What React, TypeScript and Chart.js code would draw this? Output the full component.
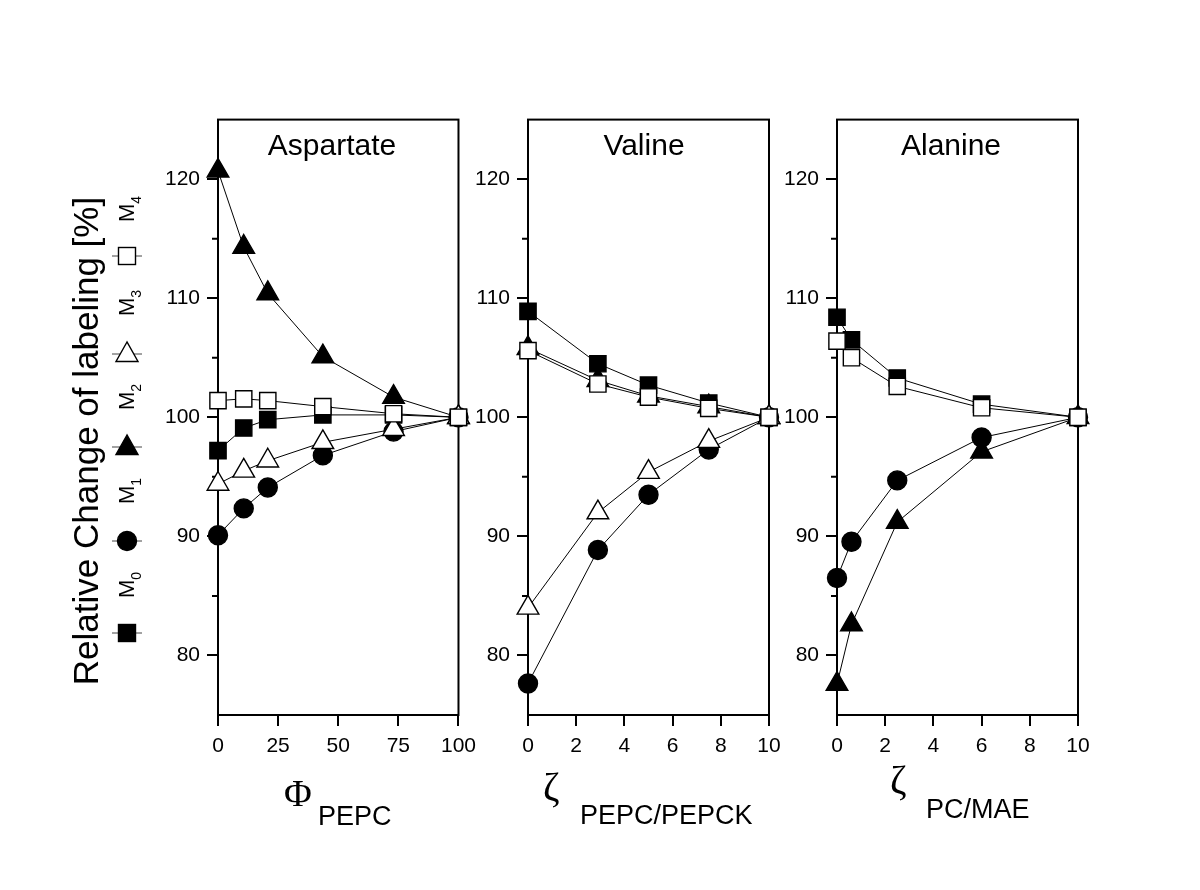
import React, { useEffect, useRef } from 'react';
import { Chart, registerables } from 'chart.js';
Chart.register(...registerables);

// ---------- data ----------
const aspX = [0, 10.7, 20.7, 43.6, 73, 100];
const aspM0 = [97.2, 99.1, 99.8, 100.2, 100.2, 100];
const aspM1 = [90.1, 92.35, 94.1, 96.8, 98.8, 100];
const aspM2 = [120.7, 114.3, 110.4, 105.1, 101.7, 100];
const aspM3 = [94.4, 95.5, 96.35, 97.9, 99.0, 100];
const aspM4 = [101.4, 101.55, 101.4, 100.9, 100.3, 100];

const valX = [0, 2.9, 5, 7.5, 10];
const valM0 = [108.9, 104.5, 102.7, 101.2, 100];
const valM1 = [77.65, 88.85, 93.5, 97.3, 100];
const valM2 = [105.8, 103.1, 101.8, 100.9, 100];
const valM3 = [84.0, 92.0, 95.4, 98.0, 100];
const valM4 = [105.6, 102.8, 101.7, 100.75, 100];

const alaX = [0, 0.6, 2.5, 6, 10];
const alaM0 = [108.4, 106.5, 103.3, 101.1, 100];
const alaM1 = [86.5, 89.55, 94.7, 98.3, 100];
const alaM2 = [77.6, 82.6, 91.2, 97.1, 100];
const alaM4 = [106.4, 105.0, 102.6, 100.8, 100];

const yMajorTicks = [80, 90, 100, 110, 120];
const yMinorTicks = [85, 95, 105, 115];
const aspXTicks = [0, 25, 50, 75, 100];
const zetaXTicks = [0, 2, 4, 6, 8, 10];

const panelTitles = ['Aspartate', 'Valine', 'Alanine'];
const legendLabels = ['0', '1', '2', '3', '4'];
const yTitle = 'Relative Change of labeling [%]';

// ---------- styles ----------
const SANS = '"Liberation Sans", Arial, Helvetica, sans-serif';
const SERIF = '"Liberation Serif", "Times New Roman", serif';

type SeriesStyle = { pointStyle: string; fill: string; radius: number; order: number };
const seriesStyles: SeriesStyle[] = [
  { pointStyle: 'rect', fill: '#000', radius: 11.5, order: 2 },
  { pointStyle: 'circle', fill: '#000', radius: 9.5, order: 4 },
  { pointStyle: 'triangle', fill: '#000', radius: 12.5, order: 3 },
  { pointStyle: 'triangle', fill: '#fff', radius: 12.5, order: 1 },
  { pointStyle: 'rect', fill: '#fff', radius: 11.5, order: 0 },
];

function makeDataset(xs: number[], ys: number[], styleIdx: number) {
  const s = seriesStyles[styleIdx];
  return {
    label: 'M' + legendLabels[styleIdx],
    data: xs.map((x, i) => ({ x, y: ys[i] })),
    showLine: true,
    borderColor: '#000',
    borderWidth: 1,
    pointStyle: s.pointStyle,
    pointRadius: s.radius,
    pointBackgroundColor: s.fill,
    pointBorderColor: '#000',
    pointBorderWidth: 1.4,
    order: s.order,
    clip: false as any,
  };
}

const framePlugin = {
  id: 'frame',
  beforeDatasetsDraw(chart: any) {
    const { ctx, chartArea } = chart;
    const ys = chart.scales.y;
    ctx.save();
    ctx.strokeStyle = '#000';
    ctx.lineWidth = 2;
    ctx.strokeRect(chartArea.left, chartArea.top, chartArea.right - chartArea.left, chartArea.bottom - chartArea.top);
    ctx.beginPath();
    for (const v of yMinorTicks) {
      const py = ys.getPixelForValue(v);
      ctx.moveTo(chartArea.left - 6, py);
      ctx.lineTo(chartArea.left, py);
    }
    ctx.stroke();
    ctx.restore();
  },
};

const Y_W = 75;
const X_H = 55;
const PAD_T = 15;
const PAD_R = 25;
const AREA_W = 241;
const AREA_H = 600;

function Panel(props: { left: number; xs: number[]; series: (number[] | null)[]; xMax: number; xTicks: number[] }) {
  const ref = useRef<HTMLCanvasElement>(null);
  useEffect(() => {
    const datasets = props.series
      .map((ys, i) => (ys ? makeDataset(props.xs, ys, i) : null))
      .filter(Boolean) as any[];
    const chart = new Chart(ref.current!, {
      type: 'scatter',
      data: { datasets },
      plugins: [framePlugin],
      options: {
        animation: false,
        responsive: false,
        devicePixelRatio: 1,
        layout: { padding: { top: PAD_T, right: PAD_R, left: 0, bottom: 0 } },
        plugins: { legend: { display: false }, tooltip: { enabled: false } },
        scales: {
          x: {
            type: 'linear',
            min: 0,
            max: props.xMax,
            afterBuildTicks: (s: any) => {
              s.ticks = props.xTicks.map((v) => ({ value: v }));
            },
            afterFit: (s: any) => {
              s.height = X_H;
            },
            ticks: { color: '#000', font: { family: SANS, size: 21 }, padding: 8, maxRotation: 0, autoSkip: false },
            grid: { drawOnChartArea: false, drawTicks: true, tickLength: 11, color: '#000', lineWidth: 2 },
            border: { display: true, color: '#000', width: 2 },
          },
          y: {
            type: 'linear',
            min: 75,
            max: 125,
            afterBuildTicks: (s: any) => {
              s.ticks = yMajorTicks.map((v) => ({ value: v }));
            },
            afterFit: (s: any) => {
              s.width = Y_W;
            },
            ticks: { color: '#000', font: { family: SANS, size: 21 }, padding: 7 },
            grid: { drawOnChartArea: false, drawTicks: true, tickLength: 11, color: '#000', lineWidth: 2 },
            border: { display: true, color: '#000', width: 2 },
          },
        },
      } as any,
    });
    return () => chart.destroy();
  }, []);
  const w = Y_W + AREA_W + PAD_R;
  const h = PAD_T + AREA_H + X_H;
  return (
    <canvas
      ref={ref}
      width={w}
      height={h}
      style={{ position: 'absolute', left: props.left - Y_W, top: 115 - PAD_T, width: w, height: h }}
    />
  );
}

function LegendSymbol({ idx, cx, cy }: { idx: number; cx: number; cy: number }) {
  const s = seriesStyles[idx];
  let shape;
  if (s.pointStyle === 'rect') {
    shape = <rect x={cx - 8.5} y={cy - 8.5} width={17} height={17} fill={s.fill} stroke="#000" strokeWidth={1.4} />;
  } else if (s.pointStyle === 'circle') {
    shape = <circle cx={cx} cy={cy} r={9.5} fill={s.fill} stroke="#000" strokeWidth={1.4} />;
  } else {
    shape = (
      <polygon
        points={`${cx},${cy - 12} ${cx - 11},${cy + 7.5} ${cx + 11},${cy + 7.5}`}
        fill={s.fill}
        stroke="#000"
        strokeWidth={1.4}
      />
    );
  }
  return (
    <g>
      <line x1={cx - 15} x2={cx + 15} y1={cy} y2={cy} stroke="#444" strokeWidth={1} />
      {shape}
    </g>
  );
}

export default function App() {
  const symY = [633, 541, 447, 354, 256];
  const txtY = [598, 504, 410, 316, 222];
  return (
    <div style={{ position: 'absolute', left: 0, top: 0, width: 1200, height: 890, background: '#fff', overflow: 'hidden' }}>
      <Panel left={218} xs={aspX} series={[aspM0, aspM1, aspM2, aspM3, aspM4]} xMax={100} xTicks={aspXTicks} />
      <Panel left={528} xs={valX} series={[valM0, valM1, valM2, valM3, valM4]} xMax={10} xTicks={zetaXTicks} />
      <Panel left={837} xs={alaX} series={[alaM0, alaM1, alaM2, null, alaM4]} xMax={10} xTicks={zetaXTicks} />
      <svg width={1200} height={890} style={{ position: 'absolute', left: 0, top: 0, pointerEvents: 'none' }}>
        {/* panel titles */}
        <text x={332} y={155} fontFamily={SANS} fontSize={30} textAnchor="middle">{panelTitles[0]}</text>
        <text x={644} y={155} fontFamily={SANS} fontSize={30} textAnchor="middle">{panelTitles[1]}</text>
        <text x={951} y={155} fontFamily={SANS} fontSize={30} textAnchor="middle">{panelTitles[2]}</text>
        {/* y title */}
        <text transform="translate(98,441) rotate(-90)" fontFamily={SANS} fontSize={35} textAnchor="middle">{yTitle}</text>
        {/* legend */}
        {legendLabels.map((lab, i) => (
          <g key={i}>
            <LegendSymbol idx={i} cx={127} cy={symY[i]} />
            <text transform={`translate(134,${txtY[i]}) rotate(-90)`} fontFamily={SANS} fontSize={22}>
              M<tspan fontSize={14} dy={7}>{lab}</tspan>
            </text>
          </g>
        ))}
        {/* x titles */}
        <text x={284} y={806} fontFamily={SERIF} fontSize={38}>Φ</text>
        <text x={318} y={825} fontFamily={SANS} fontSize={27}>PEPC</text>
        <text x={543} y={800} fontFamily={SERIF} fontSize={40}>ζ</text>
        <text x={580} y={824} fontFamily={SANS} fontSize={27}>PEPC/PEPCK</text>
        <text x={890} y={793} fontFamily={SERIF} fontSize={40}>ζ</text>
        <text x={926} y={818} fontFamily={SANS} fontSize={27}>PC/MAE</text>
      </svg>
    </div>
  );
}
